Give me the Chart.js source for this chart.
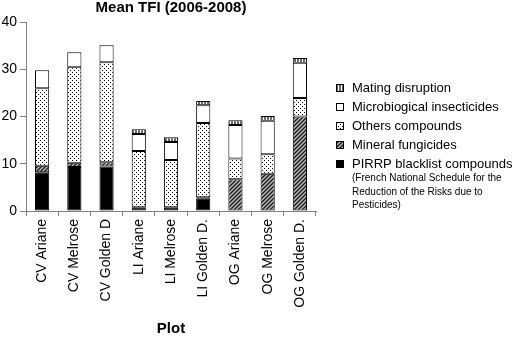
<!DOCTYPE html>
<html>
<head>
<meta charset="utf-8">
<script src="https://cdn.jsdelivr.net/npm/chart.js@4"></script>
<style>
html,body{margin:0;padding:0;background:#fff;}
#wrap{width:518px;height:338px;}
</style>
</head>
<body>
<div id="wrap"><canvas id="c" width="518" height="338"></canvas></div>
<script>
const categories = ['CV Ariane','CV Melrose','CV Golden D','LI Ariane','LI Melrose','LI Golden D.','OG Ariane','OG Melrose','OG Golden D.'];
const pirrpBlacklist = [8.2, 9.3, 9.4, 0.8, 0.8, 2.6, 0, 0, 0];
const mineralFungicides = [1.4, 0.9, 0.9, 0, 0, 0.3, 6.7, 7.9, 20.0];
const othersCompounds = [16.4, 20.2, 21.2, 11.9, 10.0, 15.7, 4.4, 4.1, 3.9];
const microbiologicalInsecticides = [3.8, 3.2, 3.6, 3.6, 3.8, 3.8, 7.1, 7.1, 7.5];
const matingDisruption = [0, 0, 0, 1.0, 1.0, 0.9, 1.0, 1.0, 1.0];
const yTicks = [0, 10, 20, 30, 40];
const legendLabels = ['Mating disruption','Microbiogical insecticides','Others compounds','Mineral fungicides','PIRRP blacklist compounds'];
const legendNote = ['(French National Schedule for the','Reduction of the Risks due to','Pesticides)'];

const FONT = '"Liberation Sans", Arial, Helvetica, sans-serif';

function makePattern(w, h, draw) {
  const c = document.createElement('canvas');
  c.width = w; c.height = h;
  const g = c.getContext('2d');
  draw(g, w, h);
  return g.createPattern(c, 'repeat');
}
const dotsPat = makePattern(4, 4, (g) => {
  g.fillStyle = '#fff'; g.fillRect(0,0,4,4);
  g.fillStyle = '#000'; g.fillRect(0,0,1,1); g.fillRect(2,2,1,1);
});
const hatchPat = makePattern(4, 4, (g) => {
  g.fillStyle = '#bbb'; g.fillRect(0,0,4,4);
  g.strokeStyle = '#222'; g.lineWidth = 1.5;
  g.beginPath();
  g.moveTo(-1,5); g.lineTo(5,-1);
  g.moveTo(-1,1); g.lineTo(1,-1);
  g.moveTo(3,5); g.lineTo(5,3);
  g.stroke();
});
const matingPat = makePattern(3, 3, (g) => {
  g.fillStyle = '#666'; g.fillRect(0,0,3,3);
  g.fillStyle = '#fff'; g.fillRect(2,0,1,3);
});

const fills = [ '#000', hatchPat, dotsPat, '#fff', matingPat ];
const series = [pirrpBlacklist, mineralFungicides, othersCompounds, microbiologicalInsecticides, matingDisruption];
const seriesNames = ['PIRRP blacklist compounds','Mineral fungicides','Others compounds','Microbiogical insecticides','Mating disruption'];

const datasets = series.map((arr, i) => ({
  label: seriesNames[i],
  data: arr.map(v => v === 0 ? null : v),
  backgroundColor: fills[i],
  borderColor: '#000',
  borderWidth: 1,
  borderSkipped: false,
  categoryPercentage: 1,
  barPercentage: 0.44
}));

const legendPlugin = {
  id: 'customLegend',
  afterDraw(chart) {
    const ctx = chart.ctx;
    ctx.save();
    const iconFills = [matingPat, '#fff', dotsPat, hatchPat, '#000'];
    const ys = [88, 107, 126, 145, 164];
    ctx.textBaseline = 'middle';
    ctx.textAlign = 'left';
    for (let i = 0; i < legendLabels.length; i++) {
      const y = ys[i];
      ctx.fillStyle = iconFills[i];
      ctx.fillRect(336.5, y - 3.5, 7, 7);
      ctx.strokeStyle = '#000';
      ctx.lineWidth = 1;
      ctx.strokeRect(336.5, y - 3.5, 7, 7);
      ctx.fillStyle = '#000';
      ctx.font = '13px ' + FONT;
      ctx.fillText(legendLabels[i], 352, y + 0.5);
    }
    ctx.font = '10px ' + FONT;
    legendNote.forEach((t, j) => ctx.fillText(t, 352, 178.5 + j * 13.5));
    ctx.restore();
  }
};

new Chart(document.getElementById('c'), {
  type: 'bar',
  data: { labels: categories, datasets },
  plugins: [legendPlugin],
  options: {
    responsive: false,
    animation: false,
    devicePixelRatio: 1,
    layout: { padding: { left: 0, right: 202, top: 0, bottom: 0 } },
    plugins: {
      legend: { display: false },
      tooltip: { enabled: false },
      title: {
        display: true,
        text: 'Mean TFI (2006-2008)',
        fullSize: false,
        color: '#000',
        font: { family: FONT, size: 15, weight: 'bold', lineHeight: 1 },
        padding: { top: 0, bottom: 7 }
      }
    },
    scales: {
      x: {
        stacked: true,
        grid: { drawOnChartArea: false, color: '#808080', tickLength: 5, offset: true },
        border: { color: '#808080', width: 1 },
        ticks: { autoSkip: false, maxRotation: 90, minRotation: 90, color: '#000', padding: 3,
                 font: { family: FONT, size: 14 } },
        title: { display: true, text: 'Plot', color: '#000', padding: { top: 0, bottom: 0 },
                 font: { family: FONT, size: 15, weight: 'bold', lineHeight: 1.2 } },
        afterFit(scale) { scale.height = 127; }
      },
      y: {
        stacked: true,
        min: yTicks[0],
        max: yTicks[yTicks.length - 1],
        afterBuildTicks(scale) { scale.ticks = yTicks.map(v => ({ value: v })); },
        grid: { drawOnChartArea: false, color: '#808080', tickLength: 6 },
        border: { color: '#808080', width: 1 },
        ticks: { color: '#000', padding: 3, font: { family: FONT, size: 14 } },
        afterFit(scale) { scale.width = 26; }
      }
    }
  }
});
</script>
</body>
</html>
